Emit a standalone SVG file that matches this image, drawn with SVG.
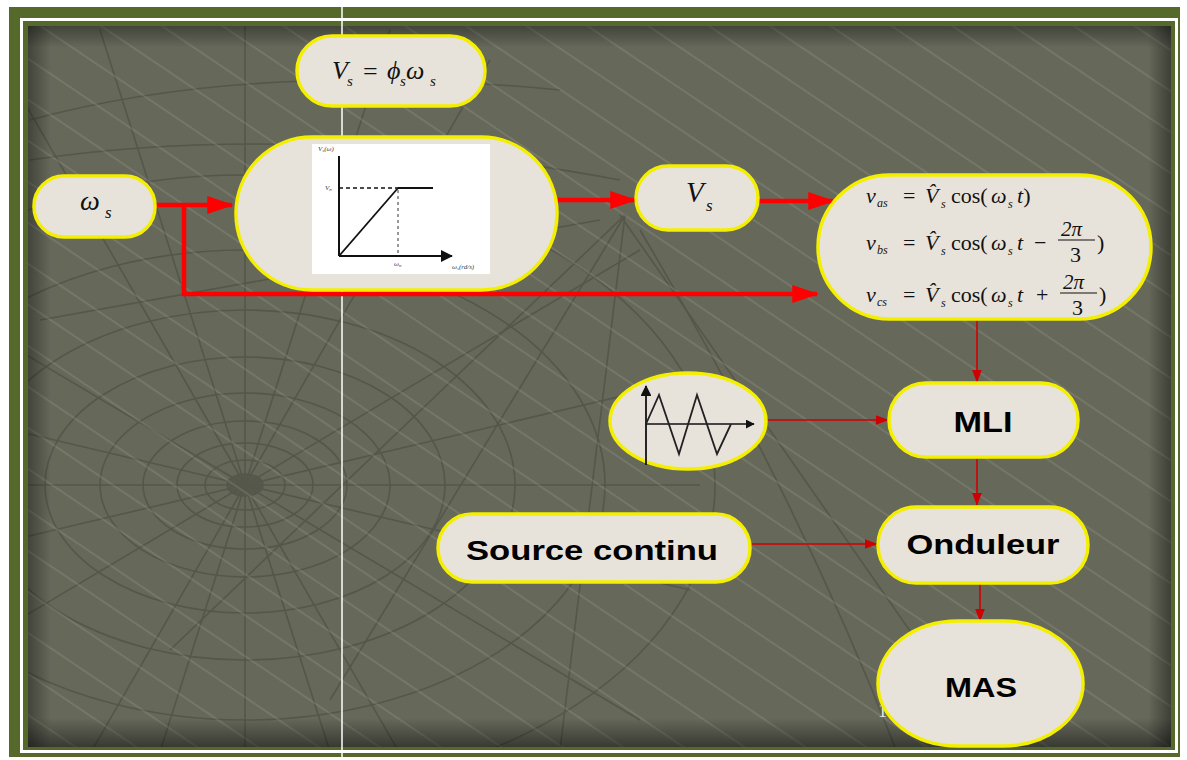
<svg xmlns="http://www.w3.org/2000/svg" width="1187" height="760" viewBox="0 0 1187 760">
<defs>
<style>
.pill{fill:#e8e3da;stroke:#f4ef00;stroke-width:3.5}
.m{font-family:"Liberation Serif","DejaVu Serif",serif;font-style:italic;fill:#111}
.u{font-family:"Liberation Serif","DejaVu Serif",serif;fill:#111}
.b{font-family:"Liberation Sans",Arial,sans-serif;font-weight:bold;fill:#000}
.thick{stroke:#ff0000;stroke-width:4.5;fill:none}
.thin{stroke:#d00000;stroke-width:1.6;fill:none}
.web{stroke:#45473b;stroke-width:1.6;fill:none;opacity:0.5}
.ax{stroke:#111;stroke-width:2;fill:none}
.tiny{font-family:"Liberation Serif",serif;font-style:italic;font-size:7px;fill:#444}
</style>
<marker id="ah" markerWidth="6" markerHeight="4" refX="5.5" refY="2" orient="auto" markerUnits="strokeWidth" viewBox="0 0 6 4">
<path d="M0,0 L6,2 L0,4 z" fill="#ff0000"/>
</marker>
<marker id="at" markerWidth="8" markerHeight="6" refX="7.5" refY="3" orient="auto" markerUnits="strokeWidth" viewBox="0 0 8 6">
<path d="M0,0 L8,3 L0,6 z" fill="#d00000"/>
</marker>
<marker id="ak" markerWidth="6" markerHeight="6" refX="5.5" refY="3" orient="auto" markerUnits="strokeWidth" viewBox="0 0 6 6">
<path d="M0,0 L6,3 L0,6 z" fill="#111"/>
</marker>
<pattern id="diag" patternUnits="userSpaceOnUse" width="34" height="20" patternTransform="rotate(-56)">
<line x1="1" y1="0" x2="1" y2="20" stroke="#b9bbad" stroke-width="1" opacity="0.35"/>
</pattern>
<linearGradient id="vt" x1="0" y1="0" x2="0" y2="1">
<stop offset="0" stop-color="#000" stop-opacity="0.35"/>
<stop offset="0.03" stop-color="#000" stop-opacity="0"/>
<stop offset="0.96" stop-color="#000" stop-opacity="0"/>
<stop offset="1" stop-color="#000" stop-opacity="0.45"/>
</linearGradient>
<linearGradient id="hz" x1="0" y1="0" x2="1" y2="0">
<stop offset="0" stop-color="#000" stop-opacity="0.35"/>
<stop offset="0.02" stop-color="#000" stop-opacity="0"/>
<stop offset="0.98" stop-color="#000" stop-opacity="0"/>
<stop offset="1" stop-color="#000" stop-opacity="0.4"/>
</linearGradient>
<clipPath id="pc"><rect x="28" y="26" width="1143" height="721"/></clipPath>
</defs>

<g id="background">
<rect x="0" y="0" width="1187" height="760" fill="#ffffff"/>
<rect x="9" y="7" width="1171" height="750" fill="#55692b"/>
<rect x="21.5" y="19.5" width="1155" height="732" fill="none" stroke="#ffffff" stroke-width="3"/>
<rect x="28" y="26" width="1143" height="721" fill="#66685a"/>
<g clip-path="url(#pc)">
<g class="web">
<ellipse cx="245" cy="485" rx="18" ry="11" fill="#4a4c40"/>
<ellipse cx="245" cy="485" rx="40" ry="25"/>
<ellipse cx="245" cy="485" rx="68" ry="42"/>
<ellipse cx="245" cy="485" rx="102" ry="64"/>
<ellipse cx="245" cy="485" rx="145" ry="92"/>
<ellipse cx="245" cy="485" rx="200" ry="128"/>
<ellipse cx="245" cy="485" rx="270" ry="175"/>
<ellipse cx="245" cy="485" rx="360" ry="235"/>
<ellipse cx="245" cy="485" rx="470" ry="310"/>
<path d="M245,485 L-200,485 M245,485 L700,485 M245,485 L245,0 M245,485 L245,800 M245,485 L-150,250 M245,485 L640,720 M245,485 L-150,720 M245,485 L640,250 M245,485 L0,60 M245,485 L490,910 M245,485 L490,60 M245,485 L0,910 M245,485 L100,30 M245,485 L390,940 M245,485 L390,30 M245,485 L100,940 M245,485 L-200,380 M245,485 L690,590 M245,485 L-200,590 M245,485 L690,380"/>
<path d="M625,215 L170,650 M625,215 L330,700 M625,215 L560,750 M600,220 L40,320 M620,215 L1000,760"/>
<path d="M30,160 Q300,120 620,180 M30,120 Q250,60 560,90 M900,760 Q800,500 640,230"/>
</g>
<rect x="28" y="26" width="1143" height="721" fill="url(#diag)"/>
<rect x="28" y="26" width="1143" height="721" fill="url(#vt)"/>
<rect x="28" y="26" width="1143" height="721" fill="url(#hz)"/>
</g>
<line x1="342" y1="0" x2="342" y2="760" stroke="#ffffff" stroke-width="1.5"/>
<text x="878" y="717" font-family="Liberation Serif,serif" font-size="18" fill="#e8e8e0">1</text>
</g>

<g id="connectors">
<path class="thick" d="M155,205 L232,205" marker-end="url(#ah)"/>
<path class="thick" d="M184,205 L184,294 L817,294" marker-end="url(#ah)"/>
<path class="thick" d="M557,200 L635,200" marker-end="url(#ah)"/>
<path class="thick" d="M758,201 L833,201" marker-end="url(#ah)"/>
<path class="thin" d="M977,320 L977,382" marker-end="url(#at)"/>
<path class="thin" d="M766,420 L888,420" marker-end="url(#at)"/>
<path class="thin" d="M977,459 L977,505" marker-end="url(#at)"/>
<path class="thin" d="M752,544 L877,544" marker-end="url(#at)"/>
<path class="thin" d="M980,583 L980,621" marker-end="url(#at)"/>
</g>

<g id="node-formula">
<rect class="pill" x="297" y="36" width="188" height="70" rx="35"/>
<text class="m" font-size="26" y="79"><tspan x="332">V</tspan><tspan x="347" y="86" font-size="15">s</tspan><tspan x="363" y="80" font-style="normal">=</tspan><tspan x="387" y="79">ϕ</tspan><tspan x="400" y="86" font-size="15">s</tspan><tspan x="406" y="79">ω</tspan><tspan x="430" y="86" font-size="15">s</tspan></text>
</g>

<g id="node-graph">
<rect class="pill" x="236" y="137" width="321" height="153" rx="76"/>
<rect x="312" y="144" width="178" height="130" fill="#ffffff"/>
<line class="ax" x1="339" y1="156" x2="339" y2="256"/>
<line class="ax" x1="339" y1="256" x2="452" y2="256" marker-end="url(#ak)" stroke-width="1.8"/>
<line x1="339" y1="188" x2="398" y2="188" stroke="#111" stroke-width="1.6" stroke-dasharray="4,3"/>
<line x1="398" y1="188" x2="433" y2="188" stroke="#111" stroke-width="2"/>
<line x1="339" y1="256" x2="398" y2="188" stroke="#111" stroke-width="1.8"/>
<line x1="398" y1="190" x2="398" y2="256" stroke="#999" stroke-width="2" stroke-dasharray="3,3"/>
<text class="tiny" x="318" y="151">V<tspan font-size="5" dy="1">s</tspan><tspan dy="-1">(ω)</tspan></text>
<text class="tiny" x="325" y="190">V<tspan font-size="5" dy="1">n</tspan></text>
<text class="tiny" x="394" y="266">ω<tspan font-size="5" dy="1">n</tspan></text>
<text class="tiny" x="452" y="269">ω<tspan font-size="5" dy="1">s</tspan><tspan dy="-1">(rd/s)</tspan></text>
</g>

<g id="node-omega">
<rect class="pill" x="34" y="176" width="121" height="61" rx="30"/>
<text class="m" font-size="28" y="210"><tspan x="80">ω</tspan><tspan x="105" y="218" font-size="17">s</tspan></text>
</g>

<g id="node-vs">
<rect class="pill" x="636" y="166" width="122" height="64" rx="32"/>
<text class="m" font-size="29" y="202"><tspan x="686">V</tspan><tspan x="706" y="211" font-size="17">s</tspan></text>
</g>

<g id="node-equations">
<rect class="pill" x="818" y="175" width="333" height="144" rx="72"/>
<text class="m" font-size="22" y="203"><tspan x="866">v</tspan><tspan x="877" y="207" font-size="12">as</tspan><tspan x="903" y="203" font-style="normal">=</tspan><tspan x="925">V̂</tspan><tspan x="941" y="208" font-size="12">s</tspan><tspan x="951" y="203" font-style="normal">cos(</tspan><tspan x="991">ω</tspan><tspan x="1008" y="208" font-size="12">s</tspan><tspan x="1017" y="203">t</tspan><tspan font-style="normal">)</tspan></text>
<text class="m" font-size="22" y="250"><tspan x="866">v</tspan><tspan x="877" y="254" font-size="12">bs</tspan><tspan x="903" y="250" font-style="normal">=</tspan><tspan x="925">V̂</tspan><tspan x="941" y="255" font-size="12">s</tspan><tspan x="951" y="250" font-style="normal">cos(</tspan><tspan x="991">ω</tspan><tspan x="1008" y="255" font-size="12">s</tspan><tspan x="1017" y="250">t</tspan><tspan x="1034" font-style="normal">−</tspan></text>
<text class="m" font-size="21" x="1061" y="236">2π</text>
<line x1="1058" y1="240" x2="1095" y2="240" stroke="#111" stroke-width="1.2"/>
<text class="u" font-size="22" x="1070" y="262">3</text>
<text class="u" font-size="22" x="1097" y="250">)</text>
<text class="m" font-size="22" y="302"><tspan x="866">v</tspan><tspan x="877" y="306" font-size="12">cs</tspan><tspan x="903" y="302" font-style="normal">=</tspan><tspan x="925">V̂</tspan><tspan x="941" y="307" font-size="12">s</tspan><tspan x="951" y="302" font-style="normal">cos(</tspan><tspan x="991">ω</tspan><tspan x="1008" y="307" font-size="12">s</tspan><tspan x="1017" y="302">t</tspan><tspan x="1036" font-style="normal">+</tspan></text>
<text class="m" font-size="21" x="1063" y="289">2π</text>
<line x1="1060" y1="293" x2="1097" y2="293" stroke="#111" stroke-width="1.2"/>
<text class="u" font-size="22" x="1072" y="315">3</text>
<text class="u" font-size="22" x="1099" y="302">)</text>
</g>

<g id="node-triangle">
<ellipse class="pill" cx="688" cy="421" rx="78" ry="48"/>
<line x1="646" y1="465" x2="646" y2="386" stroke="#111" stroke-width="1.8" marker-end="url(#ak)"/>
<line x1="646" y1="424" x2="754" y2="424" stroke="#111" stroke-width="1.5" marker-end="url(#ak)"/>
<polyline points="646,424 659,395 679,454 697,395 717,454 731,424" fill="none" stroke="#222" stroke-width="1.8"/>
</g>

<g id="node-mli">
<rect class="pill" x="889" y="383" width="189" height="74" rx="37"/>
<text class="b" font-size="29" x="983" y="432" text-anchor="middle" textLength="59" lengthAdjust="spacingAndGlyphs">MLI</text>
</g>

<g id="node-source">
<rect class="pill" x="438" y="514" width="312" height="68" rx="34"/>
<text class="b" font-size="27" x="592" y="560" text-anchor="middle" textLength="252" lengthAdjust="spacingAndGlyphs">Source continu</text>
</g>

<g id="node-onduleur">
<rect class="pill" x="878" y="507" width="210" height="76" rx="38"/>
<text class="b" font-size="27" x="983" y="554" text-anchor="middle" textLength="153" lengthAdjust="spacingAndGlyphs">Onduleur</text>
</g>

<g id="node-mas">
<rect class="pill" x="878" y="621" width="205" height="125" rx="80" ry="62"/>
<text class="b" font-size="27" x="981" y="697" text-anchor="middle" textLength="72" lengthAdjust="spacingAndGlyphs">MAS</text>
</g>
</svg>
